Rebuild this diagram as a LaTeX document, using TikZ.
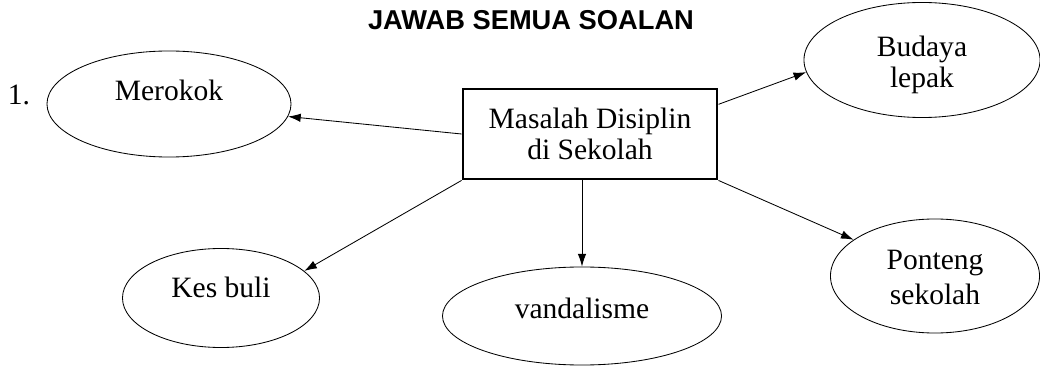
\documentclass[tikz,border=0pt]{standalone}
\usepackage{fontspec}
\setmainfont{Liberation Serif}
\newfontfamily\headfont{Liberation Sans}
\usetikzlibrary{shapes.geometric,arrows.meta}
% text in a bubble: first baseline #1 above the centre
\newcommand{\inbubble}[2]{\raisebox{#1}[0pt][0pt]{\begin{tabular}[t]{@{}c@{}}#2\end{tabular}}}
\begin{document}
\begin{tikzpicture}[x=0.025cm,y=-0.025cm]
    \tikzstyle{every node}+=[inner sep=0pt]
    \tikzstyle{bubble}=[draw=black, line width=0.6pt, ellipse, font=\fontsize{21}{22}\selectfont]
    \tikzstyle{link}=[black, line width=0.6pt, -{Latex[length=9pt,width=6pt]}]
    \useasboundingbox (0,0) rectangle (1040,367);
    \node [font=\headfont\bfseries\fontsize{19.4}{22}\selectfont] (title) at (531,20) {JAWAB SEMUA SOALAN};
    \node [font=\fontsize{21}{22}\selectfont] (num) at (19,95) {1.};
    \node [draw=black, line width=2pt, minimum width=6.35cm, minimum height=2.25cm, align=center, font=\fontsize{21}{21.5}\selectfont] (centre) at (590,134) {Masalah Disiplin\\di Sekolah};
    \node [bubble, minimum width=6.1cm, minimum height=2.65cm] (merokok) at (169,104) {\inbubble{0.075cm}{Merokok}};
    \node [bubble, minimum width=5.9cm, minimum height=2.875cm] (budaya) at (922,60) {\inbubble{0.075cm}{Budaya\\lepak}};
    \node [bubble, minimum width=4.925cm, minimum height=2.475cm] (kesbuli) at (221,298) {\inbubble{0cm}{Kes buli}};
    \node [bubble, minimum width=6.975cm, minimum height=2.45cm] (vandal) at (582,316) {\inbubble{-0.05cm}{vandalisme}};
    \node [bubble, minimum width=5.225cm, minimum height=2.85cm] (ponteng) at (935,276) {\inbubble{0.17cm}{Ponteng\\[3pt]sekolah}};
    \draw [link] (centre.west) -- (merokok.-6);
    \draw [link] (centre.13) -- (budaya.186);
    \draw [link] (centre.south east) -- (ponteng.156);
    \draw [link] (centre.south west) -- (kesbuli.18);
    \draw [link] (centre.south -| vandal.north) -- (vandal.north);
\end{tikzpicture}
\end{document}
